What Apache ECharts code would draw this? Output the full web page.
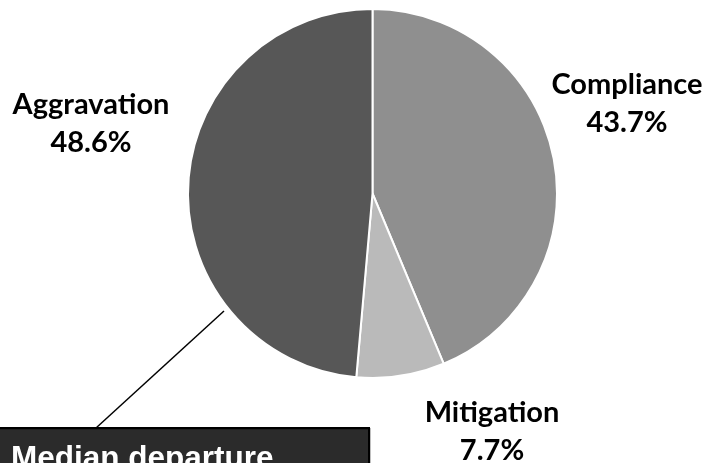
<!DOCTYPE html>
<html>
<head>
<meta charset="utf-8">
<script src="https://cdn.jsdelivr.net/npm/echarts@6/dist/echarts.min.js"></script>
<style>
html,body{margin:0;padding:0;background:#fff;}
#chart{width:709px;height:463px;}
</style>
</head>
<body>
<div id="chart"></div>
<script>
var categories = ['Compliance', 'Mitigation', 'Aggravation'];
var values = [43.7, 7.7, 48.6];
var colors = ['#8f8f8f', '#bababa', '#575757'];
var labelPos = [[627, 104], [492, 432], [91, 124]];
var boxText = 'Median departure';

var chart = echarts.init(document.getElementById('chart'), null, {renderer: 'canvas'});
chart.setOption({
  animation: false,
  backgroundColor: '#ffffff',
  series: [{
    type: 'pie',
    center: [372.5, 193.5],
    radius: 184.5,
    startAngle: 90,
    clockwise: true,
    percentPrecision: 1,
    data: categories.map(function (c, i) {
      return {name: c, value: values[i], itemStyle: {color: colors[i]}};
    }),
    itemStyle: {borderColor: '#ffffff', borderWidth: 2},
    label: {
      show: true,
      position: 'outside',
      formatter: '{b}\n{d}%',
      fontFamily: 'Lato',
      fontWeight: 'bold',
      fontSize: 29,
      lineHeight: 38,
      color: '#000000',
      align: 'center',
      overflow: 'none',
      width: 300,
      edgeDistance: 0
    },
    labelLine: {show: false},
    labelLayout: function (params) {
      var p = labelPos[params.dataIndex];
      return {x: p[0], y: p[1], align: 'center', verticalAlign: 'middle'};
    },
    emphasis: {disabled: true}
  }],
  graphic: [
    {
      type: 'line',
      shape: {x1: 96, y1: 428, x2: 224, y2: 311},
      style: {stroke: '#000000', lineWidth: 1.5},
      z: 10
    },
    {
      type: 'rect',
      shape: {x: -3, y: 428, width: 372, height: 60},
      style: {fill: '#2b2b2b', stroke: '#000000', lineWidth: 2, shadowColor: 'rgba(0,0,0,0.25)', shadowOffsetX: 1, shadowOffsetY: 1},
      z: 10
    },
    {
      type: 'text',
      x: 11,
      y: 443,
      style: {
        text: boxText,
        fill: '#ffffff',
        font: 'bold 31.5px "Liberation Sans", Arial, sans-serif',
        textVerticalAlign: 'top'
      },
      z: 11
    }
  ]
});
</script>
</body>
</html>
